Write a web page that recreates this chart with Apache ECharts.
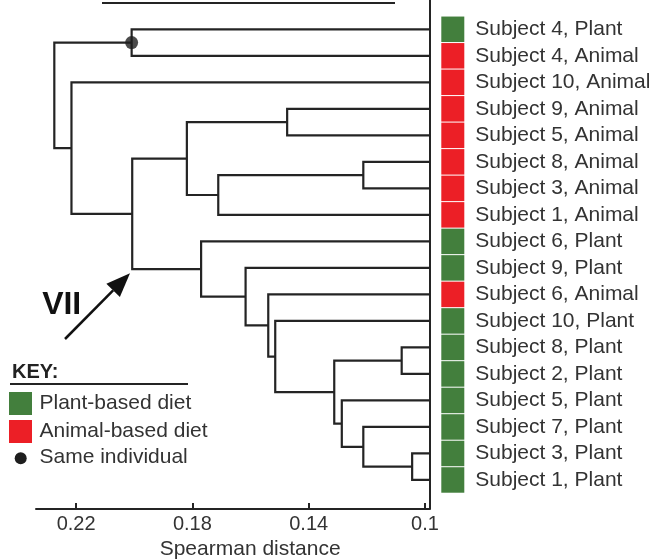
<!DOCTYPE html>
<html>
<head>
<meta charset="utf-8">
<script src="https://cdn.jsdelivr.net/npm/echarts@6/dist/echarts.min.js"></script>
<style>
  html, body { margin: 0; padding: 0; background: #fff; }
  #chart { width: 654px; height: 560px; }
</style>
</head>
<body>
<div id="chart"></div>
<script>
// Leaves, top to bottom
const leafSubjects = ['Subject 4', 'Subject 4', 'Subject 10', 'Subject 9', 'Subject 5', 'Subject 8',
  'Subject 3', 'Subject 1', 'Subject 6', 'Subject 9', 'Subject 6', 'Subject 10', 'Subject 8',
  'Subject 2', 'Subject 5', 'Subject 7', 'Subject 3', 'Subject 1'];
const leafDiets = ['Plant', 'Animal', 'Animal', 'Animal', 'Animal', 'Animal', 'Animal', 'Animal',
  'Plant', 'Plant', 'Animal', 'Plant', 'Plant', 'Plant', 'Plant', 'Plant', 'Plant', 'Plant'];

// Linkage: node ids 0..17 are leaves, merge k creates node 18 + k
const mergeLeft   = [16, 12, 5, 15, 14, 19, 3, 11, 10, 9, 20, 8, 24, 30, 0, 2, 32];
const mergeRight  = [17, 13, 6, 18, 21, 22, 4, 23, 25, 26, 7, 27, 28, 29, 1, 31, 33];
const mergeHeight = [0.1044, 0.1080, 0.1212, 0.1212, 0.1286, 0.1312, 0.1474, 0.1515, 0.1539,
  0.1617, 0.1711, 0.1770, 0.1819, 0.2007, 0.2009, 0.2216, 0.2275];

// Node marked as "same individual"
const sameIndividualNode = 32;

// Distance axis
const distMin = 0.0985;
const distMax = 0.2338;
const distTicks = [0.1, 0.14, 0.18, 0.22];

const dietColors = { Plant: '#437f3d', Animal: '#ec1f26' };
const inkColor = '#242424';
const textColor = '#333333';
const fontFamily = '"Liberation Sans", Arial, sans-serif';

// Node positions: leaves sit at the axis edge, merges at their height and children's midpoint
const nodeX = [];
const nodeY = [];
leafSubjects.forEach((_, i) => { nodeX.push(distMin); nodeY.push(i); });
const branchData = [];
mergeHeight.forEach((h, k) => {
  const a = mergeLeft[k], b = mergeRight[k];
  nodeX.push(h);
  nodeY.push((nodeY[a] + nodeY[b]) / 2);
  branchData.push({
    coords: [[nodeX[a], nodeY[a]], [h, nodeY[a]], [h, nodeY[b]], [nodeX[b], nodeY[b]]]
  });
});

const leafIndex = leafSubjects.map((_, i) => i);
const rich = {
  t: { fontSize: 21, color: textColor, fontFamily: fontFamily, padding: [0, 0, 0, 11] }
};
Object.keys(dietColors).forEach(d => {
  rich[d] = { width: 23, height: 25.5, backgroundColor: dietColors[d] };
});

const chart = echarts.init(document.getElementById('chart'), null, { renderer: 'canvas' });

// Arrow pointing at cluster VII
const tip = [130, 273.3];
const tail = [65, 339];
const dx = tip[0] - tail[0], dy = tip[1] - tail[1];
const len = Math.hypot(dx, dy);
const ux = dx / len, uy = dy / len;
const headLen = 24, headHalf = 9.5;
const base = [tip[0] - ux * headLen, tip[1] - uy * headLen];
const head = [tip,
  [base[0] - uy * headHalf, base[1] + ux * headHalf],
  [base[0] + uy * headHalf, base[1] - ux * headHalf]];

chart.setOption({
  animation: false,
  grid: { left: 36, right: 224.7, top: 0, bottom: 51, containLabel: false, outerBoundsMode: 'none' },
  xAxis: {
    type: 'value',
    position: 'bottom',
    inverse: true,
    min: distMin,
    max: distMax,
    name: 'Spearman distance',
    nameLocation: 'middle',
    nameGap: 26,
    nameTextStyle: { fontSize: 21, color: textColor, fontFamily: fontFamily, padding: [0, 0, 0, 35] },
    axisLine: { show: true, onZero: false, lineStyle: { color: inkColor, width: 2 } },
    axisTick: { show: true, inside: true, length: 6, customValues: distTicks, lineStyle: { color: inkColor, width: 2 } },
    axisLabel: {
      customValues: distTicks,
      margin: 5,
      fontSize: 20,
      color: textColor,
      fontFamily: fontFamily,
      formatter: v => String(+v.toFixed(2))
    },
    splitLine: { show: false }
  },
  yAxis: {
    type: 'value',
    position: 'right',
    inverse: true,
    min: -1.105,
    max: 18.095,
    axisLine: { show: true, onZero: false, lineStyle: { color: inkColor, width: 2 } },
    axisTick: { show: false },
    splitLine: { show: false },
    axisLabel: {
      customValues: leafIndex,
      margin: 12,
      align: 'left',
      formatter: v => '{' + leafDiets[v] + '|}{t|' + leafSubjects[v] + ', ' + leafDiets[v] + '}',
      rich: rich
    }
  },
  series: [
    {
      type: 'lines',
      coordinateSystem: 'cartesian2d',
      polyline: true,
      silent: true,
      lineStyle: { color: inkColor, width: 2.2, opacity: 1, join: 'miter' },
      data: branchData,
      z: 2
    },
    {
      type: 'scatter',
      symbol: 'circle',
      symbolSize: 13,
      itemStyle: { color: '#1e1e1e' },
      data: [[nodeX[sameIndividualNode], nodeY[sameIndividualNode]]],
      z: 3
    }
  ],
  graphic: [
    { type: 'line', shape: { x1: 102, y1: 3, x2: 395, y2: 3 }, style: { stroke: inkColor, lineWidth: 2 } },
    { type: 'text', x: 61.7, y: 305, style: { text: 'VII', font: 'bold 32px ' + fontFamily, fill: '#111', align: 'center', verticalAlign: 'middle' } },
    { type: 'line', shape: { x1: tail[0], y1: tail[1], x2: base[0], y2: base[1] }, style: { stroke: '#111', lineWidth: 2.5 } },
    { type: 'polygon', shape: { points: head }, style: { fill: '#111' } },
    // Key
    { type: 'text', x: 12, y: 372, style: { text: 'KEY:', font: 'bold 20px ' + fontFamily, fill: '#222', verticalAlign: 'middle' } },
    { type: 'line', shape: { x1: 10, y1: 384, x2: 188, y2: 384 }, style: { stroke: inkColor, lineWidth: 2 } },
    { type: 'rect', shape: { x: 9, y: 392, width: 23, height: 23 }, style: { fill: dietColors.Plant } },
    { type: 'text', x: 39.5, y: 403.5, style: { text: 'Plant-based diet', font: '21px ' + fontFamily, fill: textColor, verticalAlign: 'middle' } },
    { type: 'rect', shape: { x: 9, y: 420, width: 23, height: 23 }, style: { fill: dietColors.Animal } },
    { type: 'text', x: 39.5, y: 431, style: { text: 'Animal-based diet', font: '21px ' + fontFamily, fill: textColor, verticalAlign: 'middle' } },
    { type: 'circle', shape: { cx: 20.7, cy: 458.3, r: 6 }, style: { fill: '#1e1e1e' } },
    { type: 'text', x: 39.5, y: 457.5, style: { text: 'Same individual', font: '21px ' + fontFamily, fill: textColor, verticalAlign: 'middle' } }
  ]
});
</script>
</body>
</html>
